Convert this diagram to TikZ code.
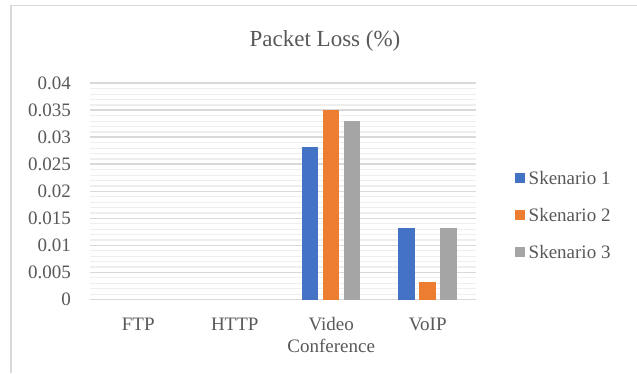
\documentclass[tikz,border=0pt]{standalone}
\usepackage{fontspec}
\setmainfont{Liberation Serif}
\definecolor{txt}{HTML}{595959}
\definecolor{gridmajor}{HTML}{D9D9D9}
\definecolor{gridminor}{HTML}{EEEEEE}
\definecolor{frame}{HTML}{D9D9D9}
\definecolor{sA}{HTML}{4472C4}
\definecolor{sB}{HTML}{ED7D31}
\definecolor{sC}{HTML}{A5A5A5}
\tikzset{
  lbl/.style={text=txt, font=\fontsize{19}{22}\selectfont, inner sep=0pt},
  ttl/.style={text=txt, font=\fontsize{23}{27}\selectfont, inner sep=0pt},
  major/.style={draw=gridmajor, line width=1.8pt},
  minor/.style={draw=gridminor, line width=1.2pt},
  swatch/.style={minimum size=10pt, inner sep=0pt, outer sep=0pt},
}
\begin{document}
\begin{tikzpicture}[x=1pt, y=-1pt]
  \useasboundingbox (0,0) rectangle (637,373);
  \fill[white] (0,0) rectangle (637,373);
  % chart frame
  \draw[frame, line width=1.5pt] (11,373) -- (11,5.5) -- (637,5.5);
  % title
  \node[ttl, anchor=base] (title) at (325,46.7) {Packet Loss (\%)};
  % value axis: y = 299.5 - 5405 * v
  \foreach \k in {1,...,40}{
    \pgfmathsetmacro{\yy}{299.5-5.405*\k}
    \draw[minor] (90,\yy) -- (476,\yy);
  }
  \foreach \k/\v in {0/0,1/0.005,2/0.01,3/0.015,4/0.02,5/0.025,6/0.03,7/0.035,8/0.04}{
    \pgfmathsetmacro{\yy}{299.5-27.025*\k}
    \draw[major] (90,\yy) -- (476,\yy);
    \node[lbl, anchor=east] (ytick\k) at (71,\yy) {\v};
  }
  % bars: Video Conference and VoIP
  \foreach \c/\a/\b/\d in {331.25/0.02826/0.0350/0.0331, 427.75/0.01317/0.00333/0.0132}{
    \pgfmathsetmacro{\ya}{299.5-5405*\a}
    \pgfmathsetmacro{\yb}{299.5-5405*\b}
    \pgfmathsetmacro{\yc}{299.5-5405*\d}
    \fill[sA] (\c-29.5,299.5) rectangle (\c-13,\ya);
    \fill[sB] (\c-8.5,299.5) rectangle (\c+8,\yb);
    \fill[sC] (\c+12.5,299.5) rectangle (\c+29,\yc);
  }
  % category labels
  \node[lbl, anchor=base] (cFTP) at (138.25,330) {FTP};
  \node[lbl, anchor=base] (cHTTP) at (234.75,330) {HTTP};
  \node[lbl, anchor=base] (cVC1) at (331.25,330) {Video};
  \node[lbl, anchor=base] (cVC2) at (331.25,352) {Conference};
  \node[lbl, anchor=base] (cVoIP) at (427.75,330) {VoIP};
  % legend
  \node[swatch, fill=sA] (k1) at (520,178.3) {};
  \node[swatch, fill=sB] (k2) at (520,214.5) {};
  \node[swatch, fill=sC] (k3) at (520,252) {};
  \node[lbl, anchor=west] (l1) at (528.5,178.3) {Skenario 1};
  \node[lbl, anchor=west] (l2) at (528.5,214.5) {Skenario 2};
  \node[lbl, anchor=west] (l3) at (528.5,252) {Skenario 3};
\end{tikzpicture}
\end{document}
